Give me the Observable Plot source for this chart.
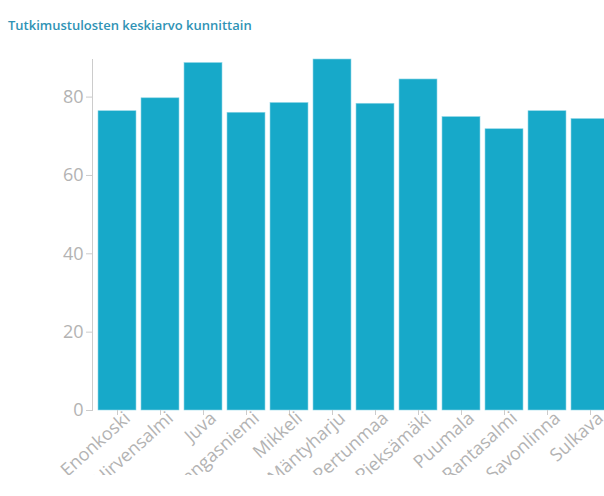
<!DOCTYPE html>
<html>
<head>
<meta charset="utf-8">
<script src="https://cdn.jsdelivr.net/npm/d3@7"></script>
<script src="https://cdn.jsdelivr.net/npm/@observablehq/plot@0.6"></script>
<style>
  html, body { margin: 0; padding: 0; background: #fff; width: 604px; height: 496px; overflow: hidden; }
  #title { position: absolute; left: 8px; top: 16px; font-family: "Open Sans", sans-serif; font-weight: 600; font-size: 13px; color: #2f93b5; white-space: nowrap; }
  #chart { position: absolute; left: 0; top: 45px; }
  #chart svg { max-width: none; overflow: hidden; }
  #chart g[aria-label="y-axis tick"], #chart g[aria-label="x-axis tick"] { stroke: #cccccc; }
  #chart g[aria-label="y-axis tick label"], #chart g[aria-label="x-axis tick label"] { fill: #b3b3b3; }
</style>
</head>
<body>
<div id="title">Tutkimustulosten keskiarvo kunnittain</div>
<div id="chart"></div>
<script>
const categories = ["Enonkoski","Hirvensalmi","Juva","Kangasniemi","Mikkeli","Mäntyharju","Pertunmaa","Pieksämäki","Puumala","Rantasalmi","Savonlinna","Sulkava"];
const values = [76.4, 79.7, 88.7, 76.0, 78.5, 89.6, 78.3, 84.5, 74.9, 71.8, 76.4, 74.4];
const yTicks = [0, 20, 40, 60, 80];

const data = categories.map((c, i) => ({name: c, value: values[i]}));

const chart = Plot.plot({
  width: 634,
  height: 430,
  marginLeft: 92,
  marginRight: 20,
  marginTop: 14,
  marginBottom: 65,
  style: {fontFamily: "Open Sans, sans-serif", fontSize: "18px", color: "#cccccc", background: "transparent"},
  x: {domain: categories, paddingInner: 0.12, paddingOuter: 0.05, label: null},
  y: {domain: [0, d3.max(values)], label: null, ticks: yTicks, tickSize: 6, tickPadding: 3, line: true},
  marks: [
    Plot.barY(data, {x: "name", y: "value", fill: "#17a9c9", stroke: "#8fd6e6", strokeWidth: 0.6}),
    Plot.axisX({tickRotate: -42, tickSize: 5, tickPadding: 2, label: null, text: null}),
    Plot.axisX({tickRotate: -42, tickSize: 0, tickPadding: 7, label: null, dx: 10, dy: -2, fill: "#b3b3b3"})
  ]
});
document.getElementById("chart").appendChild(chart);
</script>
</body>
</html>
